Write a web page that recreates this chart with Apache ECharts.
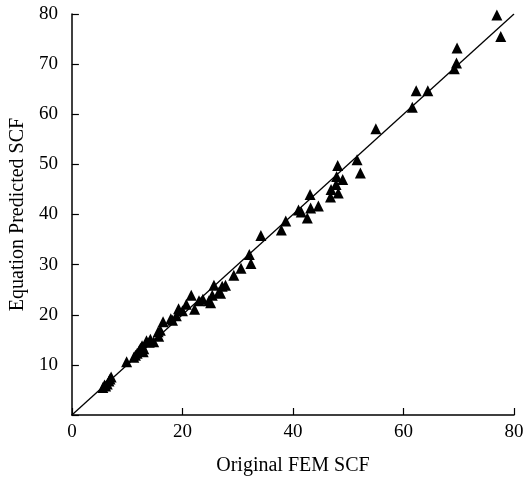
<!DOCTYPE html>
<html>
<head>
<meta charset="utf-8">
<script src="https://cdn.jsdelivr.net/npm/echarts@6/dist/echarts.min.js"></script>
<style>html,body{margin:0;padding:0;background:#fff}#c{width:529px;height:481px}</style>
</head>
<body>
<div id="c"></div>
<script>
var femSCF = [76.9,77.6,69.7,69.6,69.2,62.3,64.4,61.6,55.0,51.6,52.2,48.1,47.9,49.0,47.8,46.9,48.2,46.8,43.1,43.2,44.6,41.0,41.5,42.6,38.7,37.9,34.2,32.1,32.4,30.6,29.3,27.8,27.2,25.7,26.6,25.4,24.8,23.7,23.0,21.6,22.2,20.7,20.0,19.3,18.9,17.9,16.5,15.6,15.7,14.2,13.5,14.0,12.7,12.4,12.9,11.5,11.2,9.9,7.1,6.7,6.1,5.6,6.4,25.1,26.9,18.2,13.0,11.8,12.2,14.8,16.0,6.9,5.9];
var predictedSCF = [79.8,75.5,73.2,70.2,69.1,64.7,64.7,61.4,57.1,50.9,48.3,49.8,47.6,47.0,46.0,45.0,44.3,43.5,44.0,41.3,41.7,40.9,40.5,39.3,38.7,36.9,35.8,32.0,30.2,29.3,27.9,25.9,25.7,25.9,24.5,23.9,22.8,23.1,22.8,23.9,21.1,22.1,20.8,21.2,19.8,19.2,18.6,16.6,15.7,15.1,14.8,14.5,13.8,13.3,12.6,11.9,11.5,10.6,7.6,6.8,5.8,5.5,6.2,22.4,24.3,18.9,13.2,12.3,12.9,14.6,16.9,7.2,6.0];
var fitLineX = [0, 80];
var fitLineY = [0, 80];
var xTicks = [0, 20, 40, 60, 80];
var yTicks = [0, 10, 20, 30, 40, 50, 60, 70, 80];

var points = femSCF.map(function (v, i) { return [v, predictedSCF[i]]; });
var linePts = fitLineX.map(function (v, i) { return [v, fitLineY[i]]; });
var font = '"Liberation Serif", "DejaVu Serif", serif';

var chart = echarts.init(document.getElementById('c'));
chart.setOption({
  animation: false,
  backgroundColor: '#fff',
  grid: { left: 71, right: 15, top: 14, bottom: 66 },
  xAxis: {
    type: 'value', min: 0, max: 80, interval: 20,
    name: 'Original FEM SCF', nameLocation: 'middle', nameGap: 41,
    nameTextStyle: { fontFamily: font, fontSize: 20, color: '#000' },
    axisLine: { lineStyle: { color: '#000', width: 1.5 } },
    axisTick: { inside: true, length: 7, lineStyle: { color: '#000', width: 1.2 } },
    axisLabel: { fontFamily: font, fontSize: 19, color: '#000', margin: 8 },
    splitLine: { show: false }
  },
  yAxis: {
    type: 'value', min: 0, max: 80, interval: 10,
    name: 'Equation Predicted SCF', nameLocation: 'middle', nameGap: 41,
    nameTextStyle: { fontFamily: font, fontSize: 20, color: '#000' },
    axisLine: { lineStyle: { color: '#000', width: 1.5 } },
    axisTick: { inside: true, length: 7, lineStyle: { color: '#000', width: 1.2 } },
    axisLabel: { fontFamily: font, fontSize: 19, color: '#000', margin: 14,
      formatter: function (v) { return v === 0 ? '' : String(v); } },
    splitLine: { show: false }
  },
  series: [
    {
      type: 'line', data: linePts, symbol: 'none',
      lineStyle: { color: '#000', width: 1.3 }, z: 2
    },
    {
      type: 'scatter', data: points, symbol: 'triangle', symbolSize: 11,
      itemStyle: { color: '#000', opacity: 1 }, z: 3
    }
  ]
});
</script>
</body>
</html>
